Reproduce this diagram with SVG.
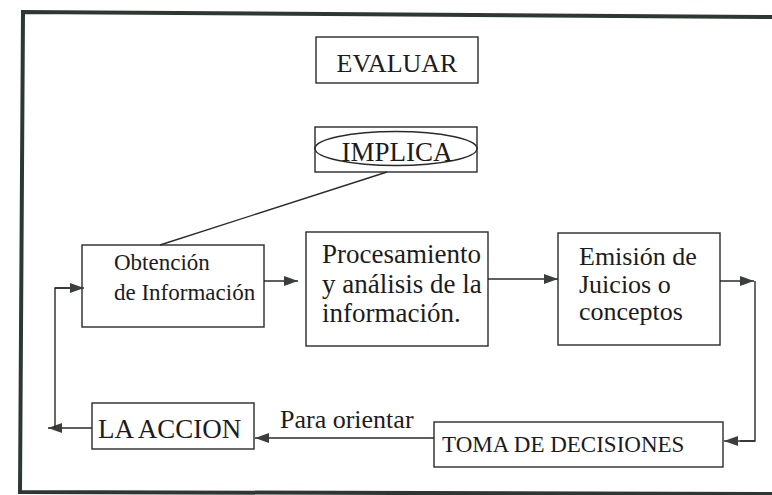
<svg xmlns="http://www.w3.org/2000/svg" width="772" height="495" viewBox="0 0 772 495">
<style>
.box{fill:#fff;stroke:#2a2a2a;stroke-width:1.4}
.t{font-family:"Liberation Serif","Times New Roman",serif;fill:#1c1c1c}
.ln{fill:none;stroke:#2a2a2a;stroke-width:1.4}
</style>
<defs>
<marker id="ah" markerUnits="userSpaceOnUse" markerWidth="16" markerHeight="12" refX="14" refY="5" orient="auto">
<path d="M0,0 L14,5 L0,10 Z" fill="#3a3f3c"/>
</marker>
</defs>
<rect width="772" height="495" fill="#fff"/>
<polyline points="772,17 23,12 20,492 772,494" fill="none" stroke="#2e3833" stroke-width="4"/>

<g id="evaluar">
<rect class="box" x="316" y="37" width="162" height="46"/>
<text class="t" x="397" y="72" font-size="26" text-anchor="middle">EVALUAR</text>
</g>

<g id="implica">
<rect class="box" x="315" y="127" width="162" height="45"/>
<ellipse cx="396" cy="148.5" rx="81" ry="17" fill="none" stroke="#2a2a2a" stroke-width="1.4"/>
<text class="t" x="397" y="161" font-size="27" text-anchor="middle">IMPLICA</text>
</g>

<g id="obtencion">
<rect class="box" x="82" y="245" width="182" height="82"/>
<text class="t" x="114" y="270" font-size="23">Obtención</text>
<text class="t" x="114" y="300" font-size="23">de Información</text>
</g>

<g id="procesamiento">
<rect class="box" x="306" y="232" width="182" height="114"/>
<text class="t" x="322" y="263" font-size="27">Procesamiento</text>
<text class="t" x="322" y="293" font-size="27">y análisis de la</text>
<text class="t" x="322" y="322" font-size="27">información.</text>
</g>

<g id="emision">
<rect class="box" x="558" y="233" width="162" height="112"/>
<text class="t" x="579" y="265" font-size="26">Emisión de</text>
<text class="t" x="579" y="293" font-size="26">Juicios o</text>
<text class="t" x="579" y="320" font-size="26">conceptos</text>
</g>

<g id="toma">
<rect class="box" x="434" y="422" width="289" height="45"/>
<text class="t" x="442" y="452" font-size="23">TOMA DE DECISIONES</text>
</g>

<g id="accion">
<rect class="box" x="92" y="403" width="162" height="46"/>
<text class="t" x="98" y="438" font-size="27">LA ACCION</text>
</g>

<g id="connectors">
<line class="ln" x1="387" y1="172" x2="160" y2="245"/>
<line class="ln" x1="264" y1="281" x2="298" y2="281" marker-end="url(#ah)"/>
<line class="ln" x1="488" y1="279" x2="558" y2="279" marker-end="url(#ah)"/>
<line class="ln" x1="720" y1="281" x2="754" y2="281" marker-end="url(#ah)"/>
<polyline class="ln" points="755,281 755,441 740,441"/>
<line class="ln" x1="755" y1="441" x2="724" y2="441" marker-end="url(#ah)"/>
<line class="ln" x1="434" y1="438" x2="255" y2="438" marker-end="url(#ah)"/>
<text class="t" x="280" y="428" font-size="26">Para orientar</text>
<line class="ln" x1="92" y1="428" x2="48" y2="428" marker-end="url(#ah)"/>
<polyline class="ln" points="55,428 55,288 70,288"/>
<line class="ln" x1="55" y1="288" x2="84" y2="288" marker-end="url(#ah)"/>
</g>
</svg>
